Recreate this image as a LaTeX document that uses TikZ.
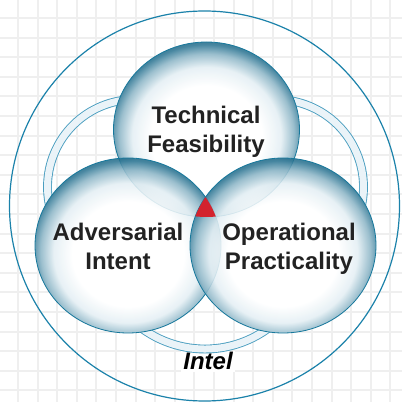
\documentclass[tikz,border=0pt]{standalone}
\usepackage{fontspec}
\setmainfont{Liberation Sans}
\usetikzlibrary{shapes.geometric}
\definecolor{ringblue}{HTML}{1B82AA}
\definecolor{bandline}{HTML}{4A9EC0}
\definecolor{bandfill}{HTML}{EAF3F8}
\definecolor{gridgray}{HTML}{EFEFEF}
\definecolor{sphA}{HTML}{E4EFF4}
\definecolor{sphB}{HTML}{8DB6C7}
\definecolor{sphC}{HTML}{2C7593}
\definecolor{sphD}{HTML}{0E5672}
\definecolor{sphLine}{HTML}{17789C}
\definecolor{tipred}{HTML}{D3232E}
\definecolor{txt}{HTML}{222222}
\pgfdeclareradialshading{sphere}{\pgfpoint{0bp}{-3.5bp}}{color(0bp)=(white); color(15bp)=(white); color(20bp)=(sphA); color(23.5bp)=(sphB); color(26bp)=(sphC); color(28.5bp)=(sphD); color(50bp)=(sphD)}
\begin{document}
\begin{tikzpicture}[x=1pt,y=1pt,
  orb/.style={ellipse, minimum width=186pt, minimum height=175pt, inner sep=0pt, shading=sphere, fill opacity=0.87, draw=sphLine, line width=0.8pt},
  under/.style={ellipse, minimum width=186pt, minimum height=175pt, inner sep=0pt, fill=white},
  band/.style={draw=bandline, line width=0.9pt, double=bandfill, double distance=7pt},
  gridline/.style={draw=gridgray, line width=2pt},
  lbltext/.style={font=\fontsize{24}{29}\selectfont\bfseries, text=txt, align=center, inner sep=0pt},
  inteltext/.style={font=\fontsize{24}{29}\selectfont\bfseries\itshape, text=black, fill=white, inner sep=2pt}
]
\useasboundingbox (0,0) rectangle (402,402);
\clip (0,0) rectangle (402,402);
\fill[white] (0,0) rectangle (402,402);
\foreach \k in {0,...,19} {
  \draw[gridline] ({18+19.6*\k},0) -- ({18+19.6*\k},402);
  \draw[gridline] (0,{402-18-19.6*\k}) -- (402,{402-18-19.6*\k});
}
\coordinate (tfc) at (206.5,272.5);
\coordinate (aic) at (128,156.5);
\coordinate (opc) at (283,156.5);
\coordinate (ringc) at (204.5,196);
\coordinate (lbc) at (135,215);
\coordinate (rbc) at (276,215);
\coordinate (bbc) at (205,160);
% outer ring
\node[circle, draw=ringblue, line width=1.2pt, minimum size=390pt, inner sep=0pt] (outer) at (ringc) {};
% Intel label
\node[inteltext, anchor=base] (intel) at (208,32) {Intel};
% bands
\draw[band] ([shift={(70:87.5)}]lbc) arc[start angle=70, end angle=205, radius=87.5];
\draw[band] ([shift={(110:87.5)}]rbc) arc[start angle=110, end angle=-25, radius=87.5];
\draw[band] ([shift={(200:107)}]bbc) arc[start angle=200, end angle=340, radius=107];
% white underlays
\node[under] (tfu) at (tfc) {};
\node[under] (aiu) at (aic) {};
\node[under] (opu) at (opc) {};
% spheres
\node[orb] (tf) at (tfc) {};
\node[orb] (ai) at (aic) {};
\node[orb] (op) at (opc) {};
% red centre
\begin{scope}
\clip (tfc) ellipse [x radius=93, y radius=87.5];
\clip (aic) ellipse [x radius=93, y radius=87.5];
\fill[tipred] (opc) ellipse [x radius=93, y radius=87.5];
\end{scope}
% labels
\node[lbltext] (tft) at (206,270) {Technical\\Feasibility};
\node[lbltext] (ait) at (118,156) {Adversarial\\Intent};
\node[lbltext] (opt) at (289,153.5) {Operational\\Practicality};
\end{tikzpicture}
\end{document}
